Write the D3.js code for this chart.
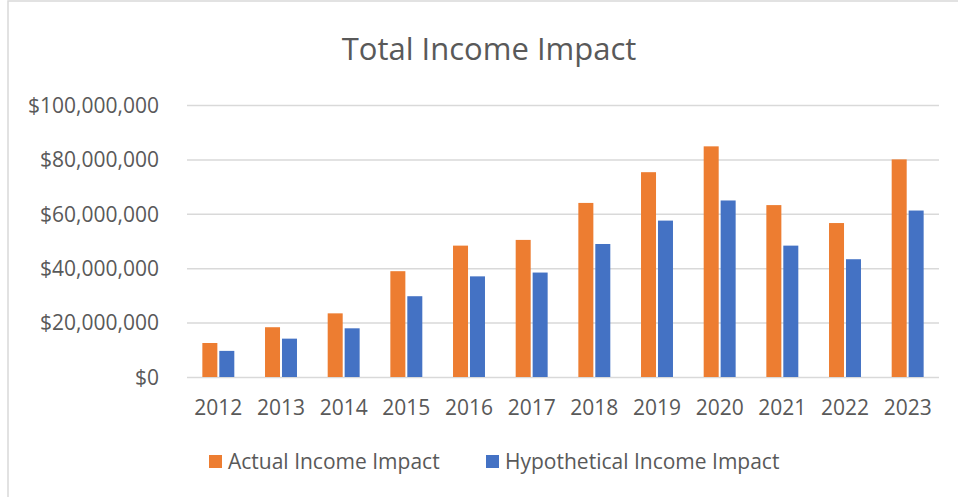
<!DOCTYPE html>
<meta charset="utf-8">
<style>

body {
  margin: 0;
  background-color: #fff;
}

text {
  font-family: "Open Sans", sans-serif;
  fill: #595959;
}

.frame {
  fill: #fff;
  stroke: #d9d9d9;
  stroke-width: 1.5px;
}

.axis--y path,
.axis--x path,
.axis--x line {
  display: none;
}

.axis--y line {
  stroke: #d9d9d9;
  stroke-width: 1.5px;
}

.title {
  font-size: 31px;
}

</style>
<body>
<svg width="958" height="497"></svg>
<script src="https://d3js.org/d3.v7.min.js"></script>
<script>

var years = ["2012", "2013", "2014", "2015", "2016", "2017", "2018", "2019", "2020", "2021", "2022", "2023"];
var actual = [12.5, 18.3, 23.4, 38.9, 48.3, 50.4, 64.0, 75.3, 84.8, 63.2, 56.6, 80.0];
var hypothetical = [9.6, 14.1, 17.9, 29.7, 37.0, 38.4, 48.9, 57.5, 64.9, 48.3, 43.3, 61.2];
var seriesNames = ["Actual Income Impact", "Hypothetical Income Impact"];
var colors = ["#ED7D31", "#4472C4"];
var yTicks = [0, 20, 40, 60, 80, 100];

var svg = d3.select("svg"),
    margin = {top: 105, right: 19, bottom: 120, left: 187},
    width = +svg.attr("width") - margin.left - margin.right,
    height = +svg.attr("height") - margin.top - margin.bottom;

svg.append("rect")
    .attr("class", "frame")
    .attr("x", 8)
    .attr("y", 1)
    .attr("width", 975)
    .attr("height", 520);

svg.append("text")
    .attr("class", "title")
    .attr("x", 489)
    .attr("y", 60)
    .attr("text-anchor", "middle")
    .text("Total Income Impact");

var g = svg.append("g").attr("transform", "translate(" + margin.left + "," + margin.top + ")");

var x = d3.scaleBand()
    .domain(years)
    .range([0, width]);

var x1 = d3.scaleBand()
    .domain([0, 1])
    .range([x.bandwidth() * 0.245, x.bandwidth() * 0.755])
    .paddingInner(0.115);

var y = d3.scaleLinear()
    .domain([0, 100])
    .range([height, 0]);

var yGroup = g.append("g")
    .attr("class", "axis axis--y")
    .call(d3.axisRight(y)
      .tickValues(yTicks)
      .tickSizeInner(width)
      .tickFormat(function(d) { return "$" + d3.format(",")(d * 1000000); })
    );

yGroup.selectAll("text")
    .attr("x", -28)
    .attr("dy", "0.35em")
    .attr("text-anchor", "end")
    .style("font-size", "21px");

var xGroup = g.append("g")
    .attr("class", "axis axis--x")
    .attr("transform", "translate(0," + height + ")")
    .call(d3.axisBottom(x).tickSize(0).tickPadding(31));

xGroup.selectAll("text")
    .attr("dy", "0.35em")
    .style("font-size", "21px");

var series = [actual, hypothetical];

series.forEach(function(vals, i) {
  g.selectAll(".bar" + i)
      .data(vals)
    .enter().append("rect")
      .attr("class", "bar" + i)
      .attr("x", function(d, j) { return x(years[j]) + x1(i); })
      .attr("width", x1.bandwidth())
      .attr("y", function(d) { return y(d); })
      .attr("height", function(d) { return height - y(d); })
      .style("fill", colors[i]);
});

// legend
var legendX = [209, 486];
var legend = svg.selectAll(".legend")
    .data(seriesNames)
  .enter().append("g")
    .attr("class", "legend")
    .attr("transform", function(d, i) { return "translate(" + legendX[i] + ",462)"; });

legend.append("rect")
    .attr("y", -7)
    .attr("width", 13)
    .attr("height", 13)
    .style("fill", function(d, i) { return colors[i]; });

legend.append("text")
    .attr("x", 19)
    .attr("dy", "0.35em")
    .style("font-size", "21px")
    .text(function(d) { return d; });

</script>
</body>
